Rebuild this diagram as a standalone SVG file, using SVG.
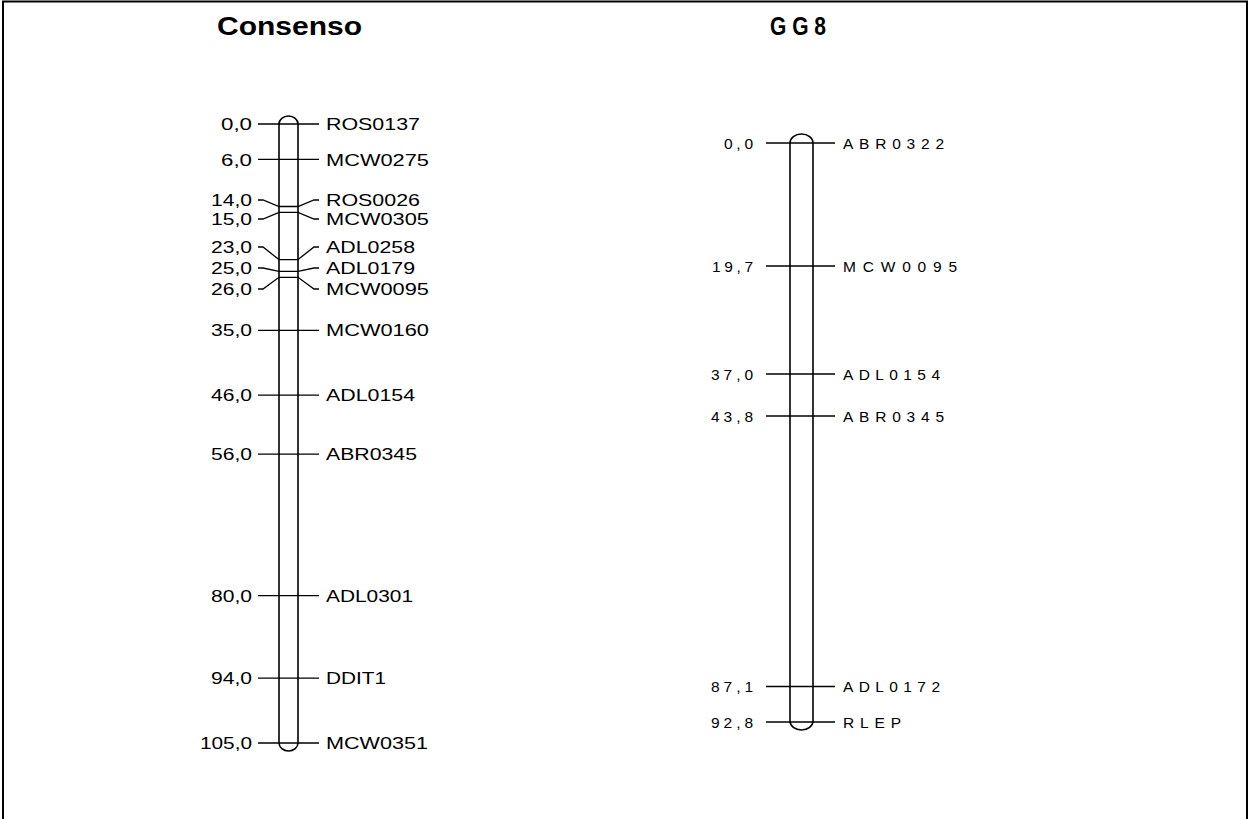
<svg xmlns="http://www.w3.org/2000/svg" width="1250" height="819" viewBox="0 0 1250 819">
<style>
.frame{fill:none;stroke:#000;stroke-width:2}
.bar{fill:#fff;stroke:#000;stroke-width:1.6}
.tk{fill:none;stroke:#000;stroke-width:1.3}
.title{font-family:"Liberation Sans",Arial,sans-serif;font-weight:bold;font-size:25px;fill:#000}
.cl{font-family:"Liberation Sans",Arial,sans-serif;font-size:17px;fill:#000}
.cn{font-family:"Liberation Sans",Arial,sans-serif;font-size:17px;fill:#000;text-anchor:end}
.gl{font-family:"Liberation Sans",Arial,sans-serif;font-size:15.5px;fill:#000}
.gn{font-family:"Liberation Sans",Arial,sans-serif;font-size:15.5px;fill:#000;text-anchor:end}
</style>
<rect width="1250" height="819" fill="#fff"/>
<path class="frame" d="M3,819 V1.5 H1247 V819"/>

<g id="title-consenso"><text class="title" x="217" y="35" textLength="145" lengthAdjust="spacingAndGlyphs">Consenso</text></g>
<g id="title-gg8"><text class="title" x="770" y="35" textLength="56" lengthAdjust="spacingAndGlyphs">G G 8</text></g>

<g id="bar-consenso"><rect class="bar" x="279" y="116" width="19" height="635" rx="9.5" ry="8"/></g>
<g id="bar-gg8"><rect class="bar" x="790" y="134" width="23" height="596" rx="11.5" ry="9"/></g>

<g id="connectors">
<path class="tk" d="M258,124 H319"/>
<path class="tk" d="M258,159.4 H319"/>
<path class="tk" d="M258,200 H263 L279,206.5 H298 L314,200 H319"/>
<path class="tk" d="M258,219 H263 L279,212.4 H298 L314,219 H319"/>
<path class="tk" d="M258,247 H263 L279,259.6 H298 L314,247 H319"/>
<path class="tk" d="M258,268 H263 L279,271.4 H298 L314,268 H319"/>
<path class="tk" d="M258,289 H263 L279,277.3 H298 L314,289 H319"/>
<path class="tk" d="M258,330.3 H319"/>
<path class="tk" d="M258,395.2 H319"/>
<path class="tk" d="M258,454.1 H319"/>
<path class="tk" d="M258,595.6 H319"/>
<path class="tk" d="M258,678.1 H319"/>
<path class="tk" d="M258,743 H319"/>

<path class="tk" d="M766,143 H835"/>
<path class="tk" d="M766,266 H835"/>
<path class="tk" d="M766,374 H835"/>
<path class="tk" d="M766,416 H835"/>
<path class="tk" d="M766,686.5 H835"/>
<path class="tk" d="M766,722 H835"/>
</g>

<g id="consenso-ROS0137"><text class="cn" x="252" y="130" textLength="31" lengthAdjust="spacingAndGlyphs">0,0</text><text class="cl" x="326" y="130" textLength="94" lengthAdjust="spacingAndGlyphs">ROS0137</text></g>
<g id="consenso-MCW0275"><text class="cn" x="252" y="166" textLength="31" lengthAdjust="spacingAndGlyphs">6,0</text><text class="cl" x="326" y="166" textLength="103" lengthAdjust="spacingAndGlyphs">MCW0275</text></g>
<g id="consenso-ROS0026"><text class="cn" x="252" y="206" textLength="41" lengthAdjust="spacingAndGlyphs">14,0</text><text class="cl" x="326" y="206" textLength="94" lengthAdjust="spacingAndGlyphs">ROS0026</text></g>
<g id="consenso-MCW0305"><text class="cn" x="252" y="225" textLength="41" lengthAdjust="spacingAndGlyphs">15,0</text><text class="cl" x="326" y="225" textLength="103" lengthAdjust="spacingAndGlyphs">MCW0305</text></g>
<g id="consenso-ADL0258"><text class="cn" x="252" y="253" textLength="41" lengthAdjust="spacingAndGlyphs">23,0</text><text class="cl" x="326" y="253" textLength="89" lengthAdjust="spacingAndGlyphs">ADL0258</text></g>
<g id="consenso-ADL0179"><text class="cn" x="252" y="274" textLength="41" lengthAdjust="spacingAndGlyphs">25,0</text><text class="cl" x="326" y="274" textLength="89" lengthAdjust="spacingAndGlyphs">ADL0179</text></g>
<g id="consenso-MCW0095"><text class="cn" x="252" y="295" textLength="41" lengthAdjust="spacingAndGlyphs">26,0</text><text class="cl" x="326" y="295" textLength="103" lengthAdjust="spacingAndGlyphs">MCW0095</text></g>
<g id="consenso-MCW0160"><text class="cn" x="252" y="336" textLength="41" lengthAdjust="spacingAndGlyphs">35,0</text><text class="cl" x="326" y="336" textLength="103" lengthAdjust="spacingAndGlyphs">MCW0160</text></g>
<g id="consenso-ADL0154"><text class="cn" x="252" y="401" textLength="41" lengthAdjust="spacingAndGlyphs">46,0</text><text class="cl" x="326" y="401" textLength="89" lengthAdjust="spacingAndGlyphs">ADL0154</text></g>
<g id="consenso-ABR0345"><text class="cn" x="252" y="460" textLength="41" lengthAdjust="spacingAndGlyphs">56,0</text><text class="cl" x="326" y="460" textLength="91" lengthAdjust="spacingAndGlyphs">ABR0345</text></g>
<g id="consenso-ADL0301"><text class="cn" x="252" y="602" textLength="41" lengthAdjust="spacingAndGlyphs">80,0</text><text class="cl" x="326" y="602" textLength="87" lengthAdjust="spacingAndGlyphs">ADL0301</text></g>
<g id="consenso-DDIT1"><text class="cn" x="252" y="684" textLength="41" lengthAdjust="spacingAndGlyphs">94,0</text><text class="cl" x="326" y="684" textLength="60" lengthAdjust="spacingAndGlyphs">DDIT1</text></g>
<g id="consenso-MCW0351"><text class="cn" x="252" y="749" textLength="52" lengthAdjust="spacingAndGlyphs">105,0</text><text class="cl" x="326" y="749" textLength="102" lengthAdjust="spacingAndGlyphs">MCW0351</text></g>

<g id="gg8-ABR0322"><text class="gn" x="753" y="148.5" textLength="29">0,0</text><text class="gl" x="843" y="148.5" textLength="101">ABR0322</text></g>
<g id="gg8-MCW0095"><text class="gn" x="753" y="271.5" textLength="41">19,7</text><text class="gl" x="843" y="271.5" textLength="114">MCW0095</text></g>
<g id="gg8-ADL0154"><text class="gn" x="753" y="379.5" textLength="42">37,0</text><text class="gl" x="843" y="379.5" textLength="97">ADL0154</text></g>
<g id="gg8-ABR0345"><text class="gn" x="753" y="421.5" textLength="42">43,8</text><text class="gl" x="843" y="421.5" textLength="101">ABR0345</text></g>
<g id="gg8-ADL0172"><text class="gn" x="753" y="692" textLength="42">87,1</text><text class="gl" x="843" y="692" textLength="97">ADL0172</text></g>
<g id="gg8-RLEP"><text class="gn" x="753" y="727.5" textLength="42">92,8</text><text class="gl" x="843" y="727.5" textLength="58">RLEP</text></g>
</svg>
